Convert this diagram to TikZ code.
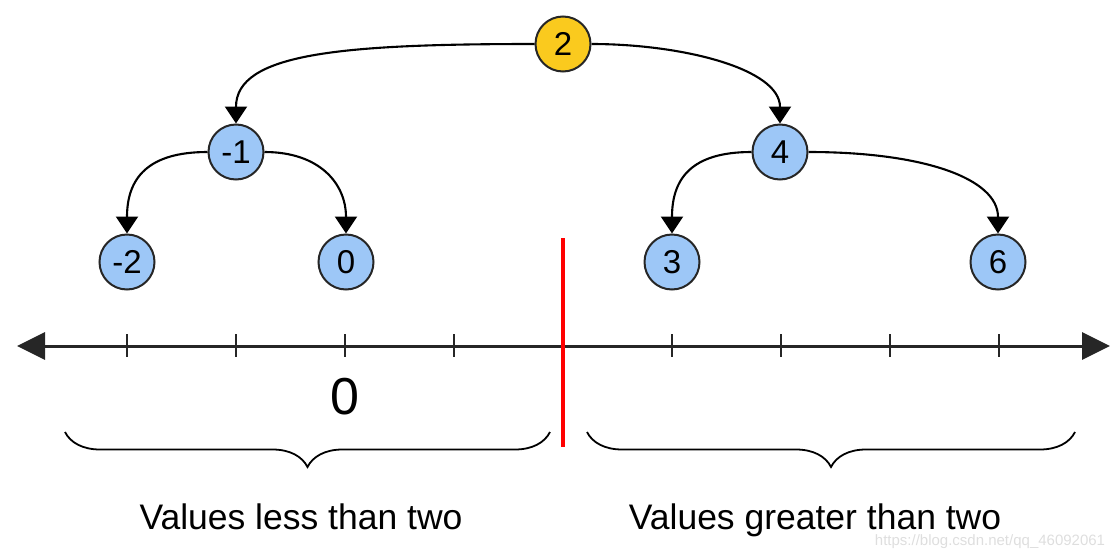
\documentclass[tikz,border=0pt]{standalone}
\usepackage{fontspec}
\setmainfont{Liberation Sans}
\usetikzlibrary{arrows.meta,decorations.pathreplacing}
\definecolor{nodeblue}{RGB}{157,199,247}
\definecolor{nodeyellow}{RGB}{250,202,30}
\definecolor{wmgray}{RGB}{222,222,222}
\begin{document}
\begin{tikzpicture}[x=1pt,y=-1pt,
  treenode/.style={circle,draw=black!85,line width=2pt,minimum size=55pt,inner sep=0pt,
    fill=nodeblue,font=\fontsize{33}{36}\selectfont},
  rootnode/.style={treenode,fill=nodeyellow},
  link/.style={line width=2.1pt,-{Triangle[width=22pt,length=17pt]}},
  numline/.style={line width=3pt,black!85,{Triangle[width=27pt,length=28pt]}-{Triangle[width=27pt,length=28pt]}},
  tick/.style={line width=2.2pt,black!85},
  bracestyle/.style={line width=1.8pt,decorate,decoration={brace,mirror,amplitude=35pt}},
  caption/.style={font=\fontsize{35.5}{40}\selectfont,anchor=base}
]
\useasboundingbox (0,0) rectangle (1120,560);
% tree nodes
\node[rootnode] (n2) at (563,44) {2};
\node[treenode] (nm1) at (236,152) {-1};
\node[treenode] (n4) at (780,152) {4};
\node[treenode] (nm2) at (127,262) {-2};
\node[treenode] (n0) at (346,262) {0};
\node[treenode] (n3) at (672,262) {3};
\node[treenode] (n6) at (998,262) {6};
% connectors
\draw[link] (n2.west) .. controls +(-195,0) and +(0,-70) .. (nm1.north);
\draw[link] (n2.east) .. controls +(90,0) and +(0,-55) .. (n4.north);
\draw[link] (nm1.west) .. controls +(-60,0) and +(0,-55) .. (nm2.north);
\draw[link] (nm1.east) .. controls +(55,0) and +(0,-50) .. (n0.north);
\draw[link] (n4.west) .. controls +(-60,0) and +(0,-55) .. (n3.north);
\draw[link] (n4.east) .. controls +(115,0) and +(0,-55) .. (n6.north);
% number line
\coordinate (L) at (17,346);
\coordinate (R) at (1110,346);
\draw[numline] (L) -- (R);
\foreach \tx in {127,236,345,454,672,781,890,999}
  \draw[tick] (\tx,334) -- (\tx,357);
% red divider
\coordinate (redtop) at (563,238);
\coordinate (redbot) at (563,447);
\draw[red,line width=3.4pt] (redtop) -- (redbot);
% zero label
\node[font=\fontsize{52}{56}\selectfont] (zero) at (345,397) {0};
% braces
\coordinate (b1l) at (65,432);
\coordinate (b1r) at (550,432);
\coordinate (b2l) at (587,432);
\coordinate (b2r) at (1075,432);
\draw[bracestyle] (b1l) -- (b1r);
\draw[bracestyle] (b2l) -- (b2r);
% captions
\node[caption] (lt) at (301,529) {Values less than two};
\node[caption] (gt) at (815,529) {Values greater than two};
% watermark
\node[text=wmgray,font=\fontsize{15}{18}\selectfont] (wm) at (990,542) {https://blog.csdn.net/qq\_46092061};
\end{tikzpicture}
\end{document}
